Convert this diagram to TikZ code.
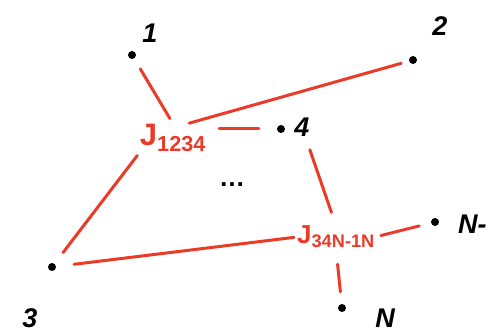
\documentclass[tikz,border=0pt]{standalone}
\usepackage{fontspec}
\setmainfont{Liberation Sans}
\definecolor{jred}{HTML}{EA3A28}
\begin{document}
\begin{tikzpicture}[x=1pt,y=-1pt,
  dot/.style={circle,fill=black,inner sep=0pt,minimum size=8pt},
  lab/.style={font=\fontsize{27}{27}\selectfont\bfseries\itshape,inner sep=0pt},
  jlab/.style={text=jred,font=\fontsize{#1}{#1}\selectfont\bfseries,inner sep=0pt},
  link/.style={draw=jred,line width=3pt,line cap=round}]
\useasboundingbox (0,0) rectangle (493,334);
% points
\node[dot] (p1) at (132,55) {};
\node[lab] (l1) at (150,33) {1};
\node[dot] (p2) at (413,60) {};
\node[lab] (l2) at (440,26) {2};
\node[dot] (p4) at (281,129) {};
\node[lab] (l4) at (302,127) {4};
\node[dot] (p3) at (52,267) {};
\node[lab] (l3) at (30,318) {3};
\node[dot] (pn1) at (435,222) {};
\node[lab,anchor=west] (ln1) at (458,224) {N-};
\node[dot] (pn) at (342,308) {};
\node[lab] (ln) at (385,318) {N};
\node[font=\fontsize{26}{26}\selectfont\bfseries] (dots) at (232,185) {\ldots};
% couplings
\node[jlab=31] (j1) at (173,138) {J\textsubscript{1234}};
\node[jlab=26] (j2) at (336,237) {J\textsubscript{34N-1N}};
% links
\draw[link,shorten <=12pt,shorten >=6pt] (p1) -- (j1.north);
\draw[link,shorten <=2pt,shorten >=8pt] (j1.45) -- (p2);
\draw[link,shorten <=13pt,shorten >=18pt] (j1.east |- p4) -- (p4);
\draw[link,shorten <=4pt,shorten >=14pt] (j1.south west) -- (p3);
\draw[link,shorten <=18pt,shorten >=3pt] (p3) -- (j2.west);
\draw[link,shorten <=14pt,shorten >=14pt] (l4) -- (j2.north);
\draw[link,shorten <=6pt,shorten >=12pt] (j2.east) -- (pn1);
\draw[link,shorten <=16pt,shorten >=12pt] (j2.south) -- (pn);
\end{tikzpicture}
\end{document}
